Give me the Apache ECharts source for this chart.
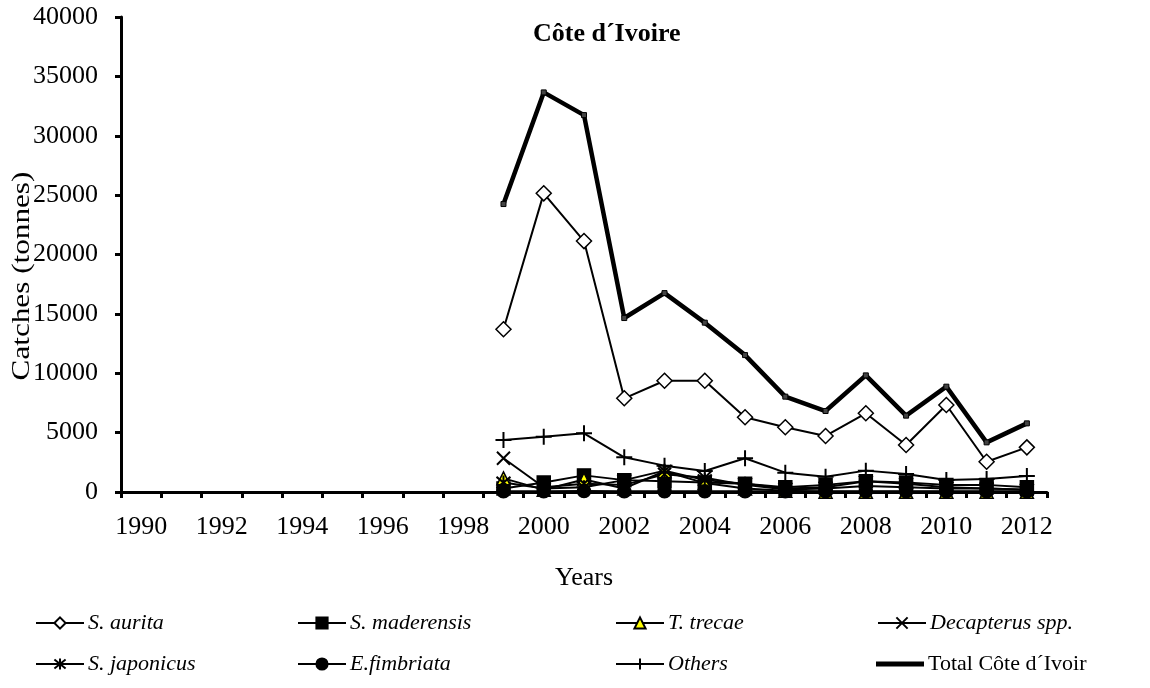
<!DOCTYPE html>
<html>
<head>
<meta charset="utf-8">
<script src="https://cdn.jsdelivr.net/npm/echarts@6/dist/echarts.min.js"></script>
<style>
  html, body { margin: 0; padding: 0; background: #fff; }
  #chart { width: 1150px; height: 688px; }
</style>
</head>
<body>
<div id="chart"></div>
<script>
// years on the x axis
const years = [];
for (let y = 1990; y <= 2012; y++) years.push(String(y));

// catches (tonnes), 1990-1998 empty
const E = [null, null, null, null, null, null, null, null, null];
const sAurita = E.concat([13700, 25150, 21130, 7890, 9370, 9370, 6300, 5450, 4720, 6630, 3960, 7330, 2550, 3760]);
const sMaderensis = E.concat([300, 800, 1400, 1000, 900, 800, 700, 400, 600, 900, 800, 600, 600, 400]);
const tTrecae = E.concat([1150, 200, 1050, 300, 1750, 750, 300, 100, 30, 30, 30, 30, 30, 30]);
const decapterus = E.concat([2840, 400, 700, 600, 1500, 1200, 600, 200, 300, 500, 400, 300, 300, 200]);
const sJaponicus = E.concat([800, 300, 400, 1000, 1800, 1000, 700, 300, 400, 900, 700, 400, 300, 200]);
const eFimbriata = E.concat([60, 60, 80, 60, 60, 60, 60, 60, 60, 60, 60, 60, 60, 60]);
const others = E.concat([4380, 4660, 4940, 2920, 2220, 1770, 2840, 1630, 1290, 1800, 1520, 1010, 1090, 1350]);
const total = E.concat([24250, 33650, 31740, 14650, 16750, 14260, 11530, 8030, 6820, 9820, 6430, 8870, 4180, 5780]);

const FONT = '"Liberation Serif", "Times New Roman", serif';

const crossPath = 'path://M0,0L10,10M10,0L0,10';
const starPath = 'path://M1,1L9,9M9,1L1,9M5,0L5,10';
const plusPath = 'path://M5,0L5,10M0,5L10,5';

function line(name, data, symbol, size, fill, extra) {
  return Object.assign({
    name: name,
    type: 'line',
    data: data,
    symbol: symbol,
    symbolSize: size,
    showSymbol: true,
    connectNulls: false,
    lineStyle: { color: '#000', width: 2 },
    itemStyle: { color: fill, borderColor: '#000', borderWidth: 1.5 },
    emphasis: { disabled: true },
    animation: false
  }, extra || {});
}

const strokeOnly = { itemStyle: { color: 'transparent', borderColor: '#000', borderWidth: 2 } };

const series = [
  line('S. aurita', sAurita, 'diamond', 15, '#fff'),
  line('S. maderensis', sMaderensis, 'rect', 13, '#000'),
  line('T. trecae', tTrecae, 'triangle', 13, '#ffff00'),
  line('Decapterus spp.', decapterus, crossPath, 13, 'transparent', strokeOnly),
  line('S. japonicus', sJaponicus, starPath, 14, 'transparent', strokeOnly),
  line('E.fimbriata', eFimbriata, 'circle', 13, '#000'),
  line('Others', others, plusPath, 16, 'transparent', strokeOnly),
  line('Total Côte d´Ivoir', total, 'rect', 5, '#333', { lineStyle: { color: '#000', width: 4.5 }, itemStyle: { color: '#444', borderColor: '#000', borderWidth: 1 } })
];

// legend placement: [name, left, top, italic]
const legendPos = [
  ['S. aurita', 35, 612, true],
  ['S. maderensis', 297, 612, true],
  ['T. trecae', 615, 612, true],
  ['Decapterus spp.', 877, 612, true],
  ['S. japonicus', 35, 653, true],
  ['E.fimbriata', 297, 653, true],
  ['Others', 615, 653, true],
  ['Total Côte d´Ivoir', 876, 653, false]
];

const legends = legendPos.map(function (p) {
  return {
    data: [p[0]],
    left: p[1],
    top: p[2],
    padding: 0,
    itemWidth: 48,
    itemHeight: 14,
    itemGap: 0,
    selectedMode: false,
    textStyle: {
      fontFamily: FONT,
      fontSize: 22,
      fontStyle: p[3] ? 'italic' : 'normal',
      color: '#000',
      padding: [0, 0, 0, -1]
    }
  };
});
// total: plain thick bar as its key
legends[7].data = [{ name: 'Total Côte d´Ivoir', icon: 'rect', itemStyle: { color: '#000', borderWidth: 0 } }];
legends[7].itemHeight = 5;

const chart = echarts.init(document.getElementById('chart'));
chart.setOption({
  backgroundColor: '#fff',
  animation: false,
  title: {
    text: 'Côte d´Ivoire',
    left: 533,
    top: 21,
    padding: 0,
    textStyle: { fontFamily: FONT, fontSize: 26, fontWeight: 'bold', color: '#000' }
  },
  graphic: [{
    type: 'text',
    x: 22,
    y: 276,
    rotation: Math.PI / 2,
    scaleX: 1.2,
    style: {
      text: 'Catches (tonnes)',
      font: '26px ' + FONT,
      fill: '#000',
      align: 'center',
      verticalAlign: 'middle'
    }
  }],
  legend: legends,
  grid: { left: 121, right: 103, top: 17, bottom: 196, containLabel: false },
  xAxis: {
    type: 'category',
    data: years,
    boundaryGap: true,
    name: 'Years',
    nameLocation: 'middle',
    nameGap: 86,
    nameTextStyle: { fontFamily: FONT, fontSize: 26, color: '#000', verticalAlign: 'middle' },
    axisLine: { lineStyle: { color: '#000', width: 3 } },
    axisTick: { show: true, interval: 0, length: 6, lineStyle: { color: '#000', width: 3 } },
    axisLabel: { interval: 1, fontFamily: FONT, fontSize: 26, color: '#000', margin: 22 },
    splitLine: { show: false }
  },
  yAxis: {
    type: 'value',
    min: 0,
    max: 40000,
    interval: 5000,
    axisLine: { show: true, lineStyle: { color: '#000', width: 3 } },
    axisTick: { show: true, length: 6, lineStyle: { color: '#000', width: 3 } },
    axisLabel: { fontFamily: FONT, fontSize: 26, color: '#000', margin: 23, formatter: function (v) { return String(v); } },
    splitLine: { show: false }
  },
  series: series
});
</script>
</body>
</html>
